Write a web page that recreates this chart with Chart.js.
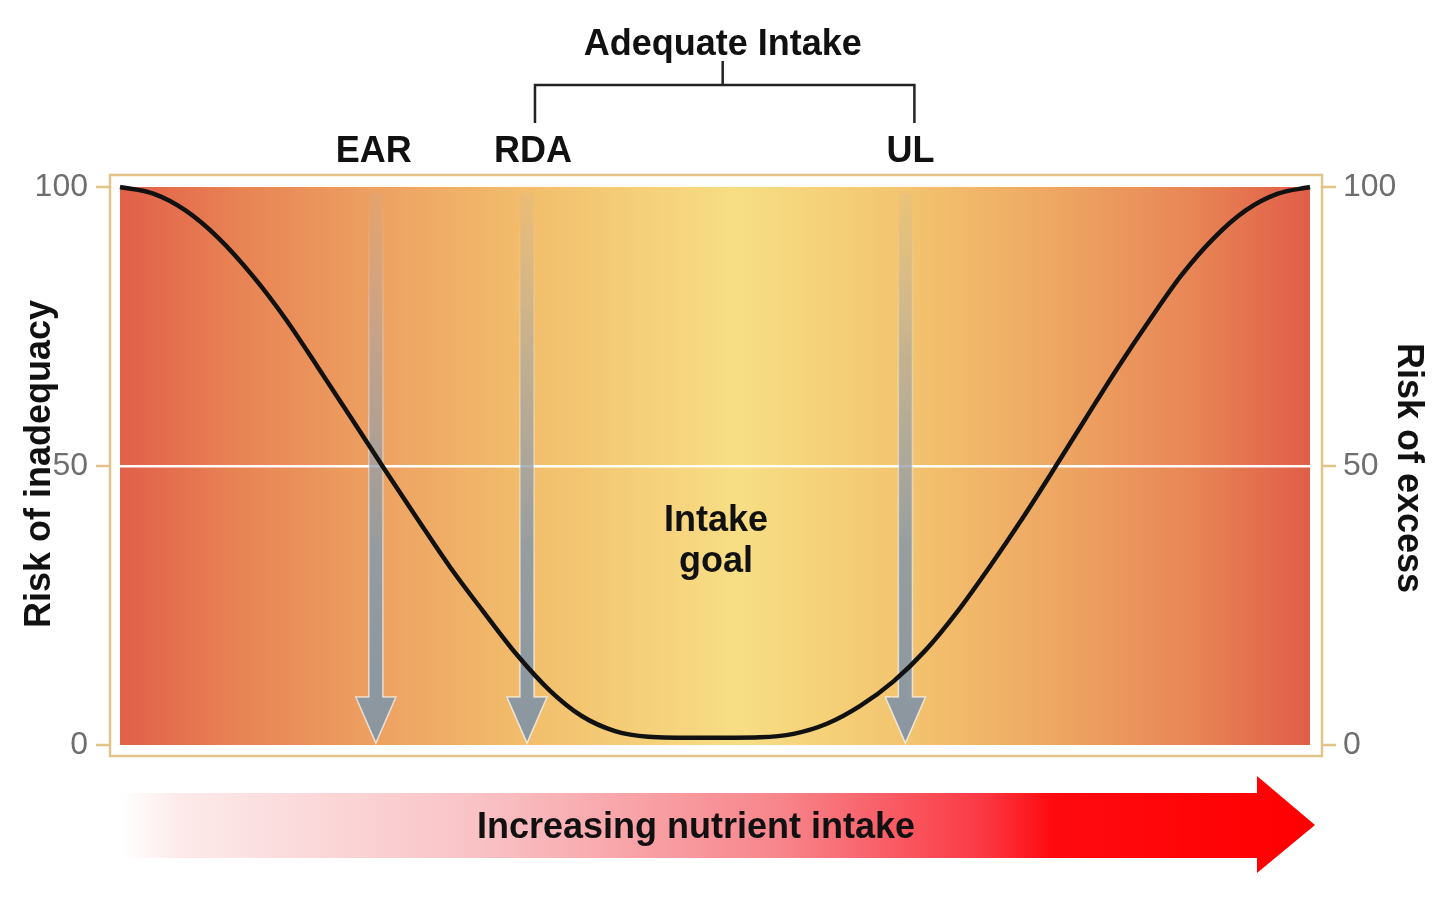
<!DOCTYPE html>
<html>
<head>
<meta charset="utf-8">
<script src="https://cdn.jsdelivr.net/npm/chart.js@4.4.1/dist/chart.umd.min.js"></script>
<style>
  html, body { margin: 0; padding: 0; background: #ffffff; }
  #wrap { width: 1440px; height: 902px; position: relative; }
</style>
</head>
<body>
<div id="wrap"><canvas id="c" width="1440" height="902"></canvas></div>
<script>
// ---- data ----
const intake = [0.0, 2.8, 5.5, 8.3, 11.1, 13.9, 16.6, 19.4, 22.2, 25.0, 27.7, 30.5, 33.3, 36.1, 38.8, 41.6, 44.4, 48.7, 53.8, 56.6, 59.4, 62.2, 65.0, 67.7, 70.4, 73.1, 75.8, 78.5, 81.2, 83.9, 86.6, 89.2, 91.9, 94.6, 97.3, 100];
const risk   = [100, 98.8, 95.8, 90.8, 84.2, 76.4, 67.8, 58.7, 49.5, 40.5, 32.0, 24.0, 16.3, 9.8, 5.2, 2.5, 1.5, 1.3, 1.4, 2.0, 3.8, 7.0, 11.4, 17.0, 24.0, 32.0, 40.5, 49.5, 58.7, 67.8, 76.4, 84.2, 90.8, 95.8, 98.8, 100];
const markerNames = ['EAR', 'RDA', 'UL'];
const markerIntake = [21.5, 34.2, 66.0];
const yTicks = [0, 50, 100];
const leftTitle = 'Risk of inadequacy';
const rightTitle = 'Risk of excess';
const topLabel = 'Adequate Intake';
const goalLabel = ['Intake', 'goal'];
const goalIntake = 50;
const goalRisk = 40;
const bottomLabel = 'Increasing nutrient intake';

const BOLD = 'bold 36px "Liberation Sans", Arial, Helvetica, sans-serif';

const decor = {
  id: 'decor',
  beforeDraw(chart) {
    const { ctx, chartArea: a } = chart;
    ctx.save();
    const g = ctx.createLinearGradient(a.left, 0, a.right, 0);
    g.addColorStop(0.00, '#e15f49');
    g.addColorStop(0.10, '#e88354');
    g.addColorStop(0.22, '#eda262');
    g.addColorStop(0.35, '#f2bf6d');
    g.addColorStop(0.52, '#f7de84');
    g.addColorStop(0.66, '#f3c46f');
    g.addColorStop(0.78, '#eea863');
    g.addColorStop(0.90, '#e88656');
    g.addColorStop(1.00, '#e05d47');
    ctx.fillStyle = g;
    ctx.fillRect(a.left, a.top, a.right - a.left, a.bottom - a.top);
    // tan frame
    ctx.strokeStyle = '#e2c489';
    ctx.lineWidth = 2.5;
    ctx.strokeRect(a.left - 10, a.top - 12, (a.right - a.left) + 22, (a.bottom - a.top) + 23);
    // tick marks
    const yL = chart.scales.y, yR = chart.scales.y2;
    yTicks.forEach(v => {
      const py = yL.getPixelForValue(v);
      ctx.beginPath();
      ctx.moveTo(a.left - 24, py); ctx.lineTo(a.left - 10, py);
      ctx.moveTo(a.right + 12, yR.getPixelForValue(v)); ctx.lineTo(a.right + 26, yR.getPixelForValue(v));
      ctx.stroke();
    });
    ctx.restore();
  },
  beforeDatasetsDraw(chart) {
    const { ctx, scales: { x, y } } = chart;
    ctx.save();
    markerIntake.forEach(v => {
      const px = x.getPixelForValue(v);
      const top = y.getPixelForValue(100) + 6;
      const tip = y.getPixelForValue(0) - 2;
      const headTop = tip - 46;
      const sw = 7, hw = 20;
      const g = ctx.createLinearGradient(0, top, 0, tip);
      g.addColorStop(0, 'rgba(175,178,184,0.10)');
      g.addColorStop(0.3, 'rgba(155,163,172,0.55)');
      g.addColorStop(0.65, 'rgba(142,154,164,0.92)');
      g.addColorStop(1, 'rgba(138,150,160,1)');
      const sg = ctx.createLinearGradient(0, top, 0, tip);
      sg.addColorStop(0, 'rgba(255,255,255,0)');
      sg.addColorStop(0.4, 'rgba(255,255,255,0.35)');
      sg.addColorStop(1, 'rgba(255,255,255,0.7)');
      ctx.beginPath();
      ctx.moveTo(px - sw, top);
      ctx.lineTo(px + sw, top);
      ctx.lineTo(px + sw, headTop);
      ctx.lineTo(px + hw, headTop);
      ctx.lineTo(px, tip);
      ctx.lineTo(px - hw, headTop);
      ctx.lineTo(px - sw, headTop);
      ctx.closePath();
      ctx.fillStyle = g;
      ctx.fill();
      ctx.strokeStyle = sg;
      ctx.lineWidth = 1.5;
      ctx.stroke();
    });
    ctx.restore();
  },
  afterDraw(chart) {
    const { ctx, chartArea: a, scales: { x, y } } = chart;
    ctx.save();
    ctx.fillStyle = '#111111';
    ctx.font = BOLD;
    ctx.textAlign = 'center';
    ctx.textBaseline = 'middle';
    // marker labels
    const offs = [-2, 6, 5];
    const lx = markerIntake.map((v, i) => x.getPixelForValue(v) + offs[i]);
    markerNames.forEach((n, i) => ctx.fillText(n, lx[i], a.top - 35));
    // bracket
    const bl = lx[1] + 2, br = lx[2] + 4, mid = (bl + br) / 2 - 2;
    const by = a.top - 102;
    ctx.strokeStyle = '#222';
    ctx.lineWidth = 2.5;
    ctx.beginPath();
    ctx.moveTo(bl, a.top - 64); ctx.lineTo(bl, by); ctx.lineTo(br, by); ctx.lineTo(br, a.top - 64);
    ctx.moveTo(mid, by); ctx.lineTo(mid, by - 24);
    ctx.stroke();
    ctx.fillText(topLabel, mid, a.top - 142);
    // intake goal
    const gx = x.getPixelForValue(goalIntake) + 1;
    const gy = y.getPixelForValue(goalRisk);
    ctx.textBaseline = 'alphabetic';
    ctx.fillText(goalLabel[0], gx, gy + 9);
    ctx.fillText(goalLabel[1], gx, gy + 50);
    // axis titles
    ctx.textBaseline = 'middle';
    ctx.save();
    ctx.translate(40, (a.top + a.bottom) / 2 - 2);
    ctx.rotate(-Math.PI / 2);
    ctx.fillText(leftTitle, 0, 0);
    ctx.restore();
    ctx.save();
    ctx.translate(1408, (a.top + a.bottom) / 2 + 2);
    ctx.rotate(Math.PI / 2);
    ctx.fillText(rightTitle, 0, 0);
    ctx.restore();
    // bottom red arrow
    const x0 = a.left, x1 = 1257, tipX = 1315;
    const yt = 793, yb = 858, hy0 = 776, hy1 = 873, ym = 825;
    const rg = ctx.createLinearGradient(x0, 0, tipX, 0);
    rg.addColorStop(0.00, 'rgba(255,255,255,1)');
    rg.addColorStop(0.05, '#fdeaea');
    rg.addColorStop(0.30, '#f9c2c5');
    rg.addColorStop(0.55, '#f7868c');
    rg.addColorStop(0.72, '#fb3a45');
    rg.addColorStop(0.78, '#ff0a10');
    rg.addColorStop(1.00, '#ff0000');
    ctx.beginPath();
    ctx.moveTo(x0, yt); ctx.lineTo(x1, yt); ctx.lineTo(x1, hy0); ctx.lineTo(tipX, ym);
    ctx.lineTo(x1, hy1); ctx.lineTo(x1, yb); ctx.lineTo(x0, yb); ctx.closePath();
    ctx.fillStyle = rg;
    ctx.fill();
    ctx.fillStyle = '#111111';
    ctx.fillText(bottomLabel, 696, 828);
    ctx.restore();
  }
};

const tickFont = { family: '"Liberation Sans", Arial, Helvetica, sans-serif', size: 32 };

new Chart(document.getElementById('c'), {
  type: 'line',
  data: {
    datasets: [{
      data: intake.map((v, i) => ({ x: v, y: risk[i] })),
      borderColor: '#111111',
      borderWidth: 4.5,
      pointRadius: 0,
      cubicInterpolationMode: 'monotone',
      fill: false,
      clip: false
    }]
  },
  options: {
    responsive: false,
    animation: false,
    devicePixelRatio: 1,
    layout: { padding: { top: 187, bottom: 157, left: 0, right: 0 } },
    plugins: { legend: { display: false }, tooltip: { enabled: false } },
    scales: {
      x: { type: 'linear', min: 0, max: 100, display: false },
      y: {
        position: 'left', min: 0, max: 100,
        afterFit(s) { s.width = 120; },
        afterBuildTicks(s) { s.ticks = yTicks.map(v => ({ value: v })); },
        ticks: { font: tickFont, color: '#6e6e6e', padding: 32 },
        grid: {
          drawTicks: false,
          color: c => (c.tick && c.tick.value === 50) ? '#ffffff' : 'rgba(0,0,0,0)',
          lineWidth: 2.5
        },
        border: { display: false }
      },
      y2: {
        position: 'right', min: 0, max: 100,
        afterFit(s) { s.width = 130; },
        afterBuildTicks(s) { s.ticks = yTicks.map(v => ({ value: v })); },
        ticks: { font: tickFont, color: '#6e6e6e', padding: 33 },
        grid: { display: false, drawTicks: false },
        border: { display: false }
      }
    }
  },
  plugins: [decor]
});
</script>
</body>
</html>
